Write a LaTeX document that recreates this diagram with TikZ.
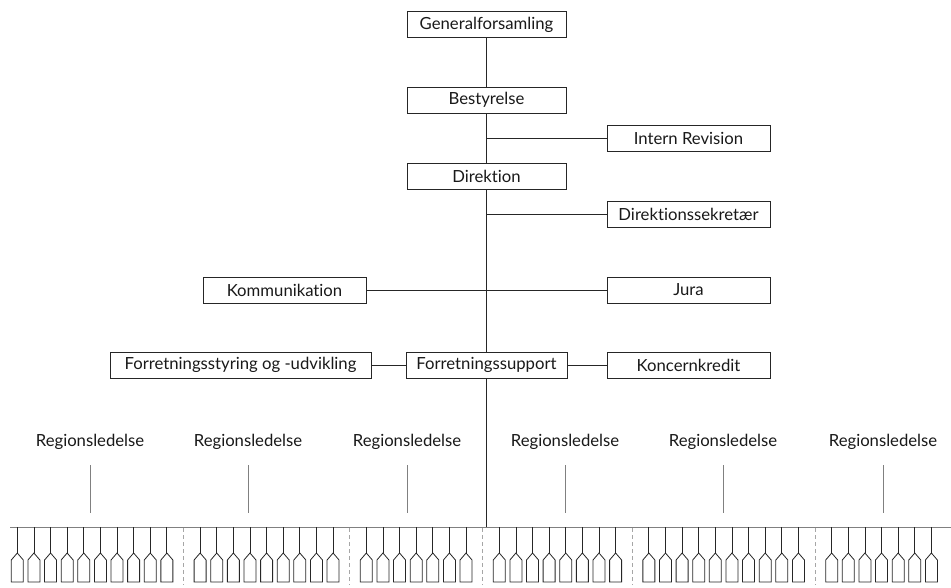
\documentclass[tikz,border=0pt]{standalone}
\usepackage{fontspec}
\setmainfont{Lato}[Ligatures=NoCommon]
\usetikzlibrary{positioning}

\begin{document}
\begin{tikzpicture}[x=1pt,y=-1pt,thick,
    unit/.style={draw=black!85,line width=0.9pt,minimum height=26pt,inner sep=0pt,
      font=\fontsize{16.7}{18}\selectfont,text=black!90},
    topunit/.style={unit,minimum width=159pt},
    sideunit/.style={unit,minimum width=163pt},
    link/.style={draw=black!85,line width=0.9pt},
    region/.style={font=\fontsize{16.7}{18}\selectfont,text=black!90,inner sep=0pt},
    regline/.style={draw=black!50,line width=1pt},
    branch/.style={draw=black!85,line width=0.8pt}]
  \useasboundingbox (0,0) rectangle (951,587);

  % main column
  \node[topunit] (GF) at (486.5,24.5) {Generalforsamling};
  \node[topunit] (BE) at (486.5,100) {Bestyrelse};
  \node[topunit] (DI) at (486.5,176) {Direktion};
  \node[unit,minimum width=161pt] (FS) at (486.5,365) {Forretningssupport};

  % staff
  \node[sideunit] (IR) at (688.5,138.5) {Intern Revision};
  \node[sideunit] (DS) at (688.5,214) {Direktionssekretær};
  \node[sideunit] (KO) at (284.5,290) {Kommunikation};
  \node[sideunit] (JU) at (688.5,290) {Jura};
  \node[unit,minimum width=261pt] (FU) at (240.5,365) {Forretningsstyring og -udvikling};
  \node[sideunit] (KK) at (688.5,365) {Koncernkredit};

  \coordinate (bus) at (486.5,527);
  \draw[link] (GF) -- (BE);
  \draw[link] (BE) -- (DI);
  \draw[link] (DI) -- (FS);
  \draw[link] (FS) -- (bus);
  \draw[link] (IR.west -| BE.south) -- (IR);
  \draw[link] (DS.west -| DI.south) -- (DS);
  \draw[link] (KO) -- (JU);
  \draw[link] (FU) -- (FS);
  \draw[link] (FS) -- (KK);

  % regions
  \foreach \rx [count=\i] in {90,248,407,565,723,883} {
    \node[region] (R\i) at (\rx,442) {Regionsledelse};
    \draw[regline] (\rx,465) -- (\rx,513);
  }

  % branches
  \coordinate (busL) at (10,527);
  \coordinate (busR) at (951,527);
  \draw[regline] (busL) -- (busR);
  \foreach \a/\b in {0/9,11/19,21/27,29/36,38/47,49/55}
    \foreach \k in {\a,...,\b} {
      \pgfmathsetmacro\bx{17.3+16.62*\k}
      \draw[branch] (\bx,527) -- (\bx,553);
      \draw[branch] (\bx,553) -- ++(6,7) -- ++(0,22) -- ++(-12,0) -- ++(0,-22) -- cycle;
    }
  \foreach \k in {10,20,28,37,48} {
    \pgfmathsetmacro\bx{17.3+16.62*\k}
    \draw[black!35,line width=0.9pt,dash pattern=on 4pt off 3pt] (\bx,528) -- (\bx,585);
  }
\end{tikzpicture}
\end{document}
